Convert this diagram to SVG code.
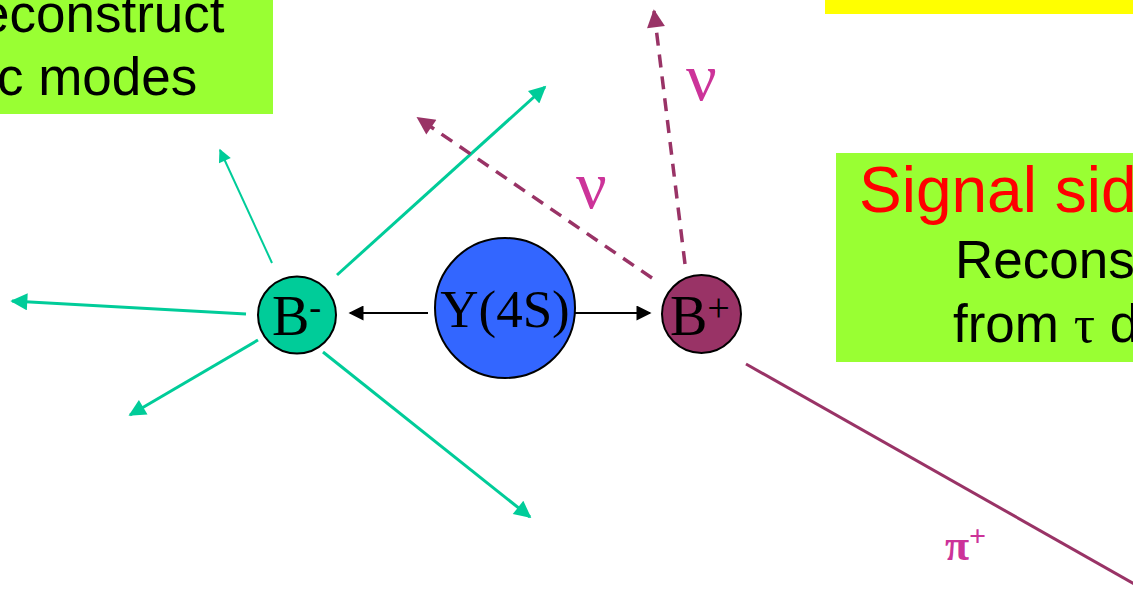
<svg xmlns="http://www.w3.org/2000/svg" width="1133" height="590" viewBox="0 0 1133 590">
<style>
.box{fill:#99FF33}
.sans{font-family:"Liberation Sans",Arial,sans-serif}
.serif{font-family:"Liberation Serif","Times New Roman",serif}
.g{stroke:#00CC99;fill:none}
.p{stroke:#993366;fill:none}
.k{stroke:#000;stroke-width:2;fill:none}
.nu{font-family:"Liberation Serif","DejaVu Serif",serif;fill:#CC3399}
</style>
<defs>
<marker id="ag" viewBox="0 0 10 10" refX="9" refY="5" markerWidth="21" markerHeight="17" markerUnits="userSpaceOnUse" orient="auto"><path d="M0,0 L10,5 L0,10 Z" fill="#00CC99"/></marker>
<marker id="ags" viewBox="0 0 10 10" refX="9" refY="5" markerWidth="17" markerHeight="13" markerUnits="userSpaceOnUse" orient="auto"><path d="M0,0 L10,5 L0,10 Z" fill="#00CC99"/></marker>
<marker id="ap" viewBox="0 0 10 10" refX="9" refY="5" markerWidth="21" markerHeight="18" markerUnits="userSpaceOnUse" orient="auto"><path d="M0,0 L10,5 L0,10 Z" fill="#993366"/></marker>
<marker id="ak" viewBox="0 0 10 10" refX="9" refY="5" markerWidth="18" markerHeight="15" markerUnits="userSpaceOnUse" orient="auto"><path d="M0,0 L10,5 L0,10 Z" fill="#000"/></marker>
</defs>

<g id="tag-box">
<rect class="box" x="-2" y="-2" width="275" height="116"/>
<text class="sans" x="-20" y="32" font-size="53" fill="#000">econstruct</text>
<text class="sans" x="-3" y="95" font-size="53" fill="#000">c modes</text>
</g>

<g id="yellow-box"><rect x="825" y="-2" width="310" height="16" fill="#FFFF00"/></g>

<g id="signal-box">
<rect class="box" x="836" y="153" width="300" height="209"/>
<text class="sans" x="859" y="212" font-size="64" fill="#FF0000">Signal sid</text>
<text class="sans" x="955" y="278" font-size="53" fill="#000">Recons</text>
<text class="sans" x="953" y="342" font-size="53" fill="#000">from <tspan class="serif">τ</tspan> d</text>
</g>

<g id="connectors">
<line class="g" stroke-width="2" x1="272" y1="263" x2="220" y2="150" marker-end="url(#ags)"/>
<line class="g" stroke-width="3" x1="246" y1="314" x2="12" y2="301" marker-end="url(#ag)"/>
<line class="g" stroke-width="3" x1="258" y1="340" x2="130" y2="415" marker-end="url(#ag)"/>
<line class="g" stroke-width="3" x1="337" y1="275" x2="545" y2="87" marker-end="url(#ag)"/>
<line class="g" stroke-width="3" x1="323" y1="352" x2="530" y2="517" marker-end="url(#ag)"/>
<line class="p" stroke-width="3.5" stroke-dasharray="13,9" x1="685" y1="264" x2="654" y2="11" marker-end="url(#ap)"/>
<line class="p" stroke-width="3.5" stroke-dasharray="13,9" x1="652" y1="278" x2="418" y2="118" marker-end="url(#ap)"/>
<line class="p" stroke-width="3" x1="746" y1="364" x2="1145" y2="590"/>
<line class="k" x1="428" y1="313" x2="350" y2="313" marker-end="url(#ak)"/>
<line class="k" x1="572" y1="313" x2="650" y2="313" marker-end="url(#ak)"/>
</g>

<g id="Y4S">
<circle cx="505" cy="308" r="70" fill="#3366FF" stroke="#000" stroke-width="2"/>
<text class="serif" x="505" y="327" font-size="53" text-anchor="middle" fill="#000">Y(4S)</text>
</g>

<g id="Bminus">
<ellipse cx="297" cy="315" rx="39" ry="38.5" fill="#00CC99" stroke="#000" stroke-width="2"/>
<text class="serif" x="272" y="335" font-size="56" fill="#000">B<tspan font-size="36" dy="-16">-</tspan></text>
</g>

<g id="Bplus">
<ellipse cx="701.5" cy="314" rx="39.5" ry="39" fill="#993366" stroke="#000" stroke-width="2"/>
<text class="serif" x="670" y="335" font-size="56" fill="#000">B<tspan font-size="40" dy="-14">+</tspan></text>
</g>

<g id="labels">
<text class="nu" x="686" y="100" font-size="68">ν</text>
<text class="nu" x="576" y="208" font-size="68">ν</text>
<text class="serif" x="945" y="560" font-size="44" font-weight="bold" fill="#CC3399">π<tspan font-size="30" dy="-14">+</tspan></text>
</g>
</svg>
